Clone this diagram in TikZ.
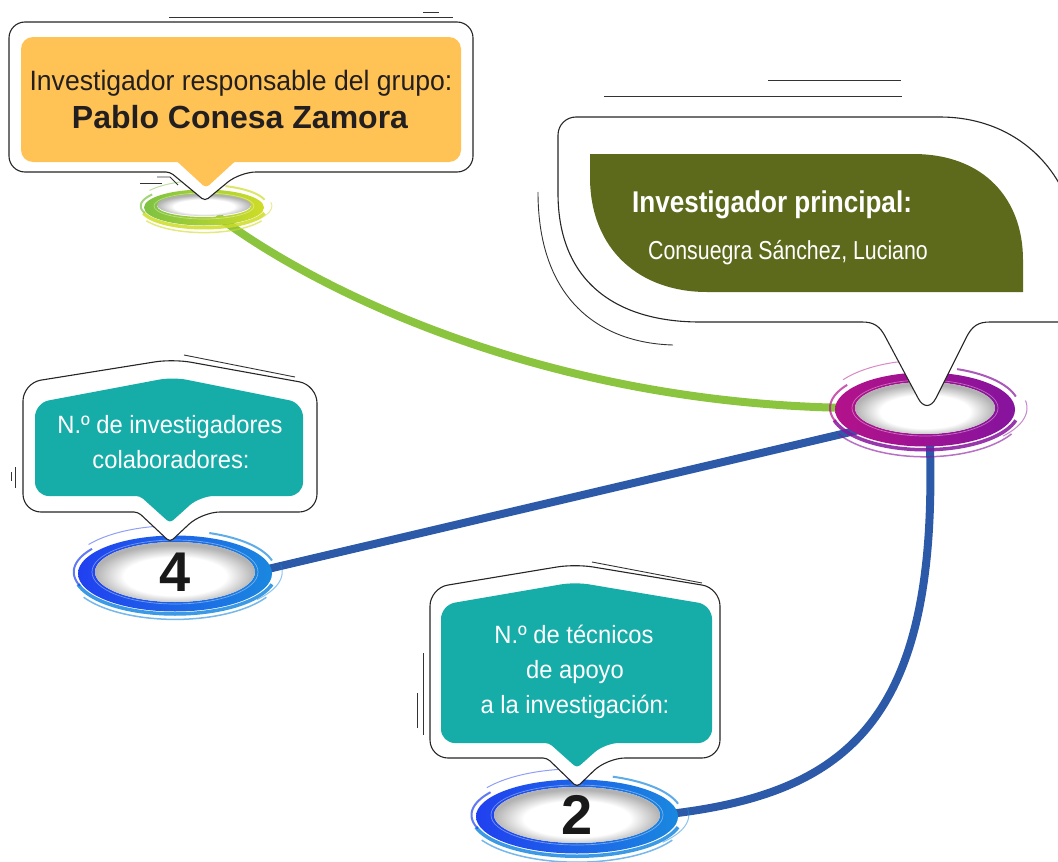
\documentclass[tikz,border=0pt]{standalone}
\usepackage{fontspec}
\setmainfont{Liberation Sans}
\newfontfamily\condA[FakeStretch=0.95]{Liberation Sans}
\newfontfamily\condB[FakeStretch=0.82]{Liberation Sans}
\newfontfamily\condC[FakeStretch=0.87]{Liberation Sans}
\usetikzlibrary{shapes.geometric}
\pgfdeclarelayer{bg}
\pgfsetlayers{bg,main}
\definecolor{orangebox}{HTML}{FFC355}
\definecolor{olivebox}{HTML}{5D6A1C}
\definecolor{tealbox}{HTML}{16ADA9}
\definecolor{lineGreen}{HTML}{8BC53F}
\definecolor{lineBlue}{HTML}{2C5AA8}
\definecolor{ringGreen}{HTML}{7DC242}
\definecolor{ringYellow}{HTML}{CFDC28}
\definecolor{ringMagenta}{HTML}{B3128A}
\definecolor{ringPurple}{HTML}{86139E}
\definecolor{ringBlueA}{HTML}{2040F0}
\definecolor{ringBlueB}{HTML}{1A88DF}
\definecolor{darktext}{HTML}{231F20}
\pgfdeclareradialshading{rimshade}{\pgfpoint{0bp}{-5bp}}{color(0bp)=(white); color(16bp)=(white); color(25bp)=(black!30); color(50bp)=(black!30)}
% #1 x, #2 y, #3 rx, #4 ry, #5 wx, #6 wy, #7 colour A, #8 colour B
\newcommand\brushring[8]{%
\begin{scope}[shift={(#1,#2)}]
\shade[left color=#7, right color=#8, even odd rule] (0,1.5) ellipse[x radius=#3+#5, y radius=#4+#6] (0,0) ellipse[x radius=#3, y radius=#4];
\draw[#8, line width=3.5pt, opacity=.85] plot[domain=15:165, samples=40, smooth] ({(#3+1.2*#5)*cos(\x)}, {2+(#4+1.25*#6)*sin(\x)});
\draw[#8, line width=1.5pt, opacity=.6] plot[domain=30:150, samples=40, smooth] ({(#3+1.5*#5)*cos(\x)}, {3+(#4+1.8*#6)*sin(\x)});
\draw[#7, line width=2pt, opacity=.7] plot[domain=160:215, samples=20, smooth] ({(#3+1.25*#5)*cos(\x)}, {(#4+1.3*#6)*sin(\x)});
\draw[#8, line width=2pt, opacity=.7] plot[domain=290:345, samples=20, smooth] ({(#3+1.2*#5)*cos(\x)}, {-1+(#4+1.3*#6)*sin(\x)});
\draw[#7, line width=1pt, opacity=.5] plot[domain=215:260, samples=20, smooth] ({(#3+1.5*#5)*cos(\x)}, {-2+(#4+1.8*#6)*sin(\x)});
\draw[#8, line width=1pt, opacity=.5] plot[domain=-10:40, samples=20, smooth] ({(#3+1.6*#5)*cos(\x)}, {(#4+1.6*#6)*sin(\x)});
\draw[white, line width=.7pt, opacity=.4] (0,0) ellipse[x radius=#3+3, y radius=#4+2];
\end{scope}}
\tikzset{
  callout/.style={draw=black!85, line width=1.1pt, fill=white, line join=round},
  deco/.style={draw=black!80, line width=0.9pt},
  core/.style={ellipse, inner sep=0pt, shade, shading=rimshade},
  greenline/.style={draw=lineGreen, line width=8pt},
  blueline/.style={draw=lineBlue, line width=8pt},
  lbl/.style={text=white, inner sep=0pt, anchor=base, align=center},
  digit/.style={font=\fontsize{56}{56}\selectfont\bfseries, text=black!90},
}
\begin{document}
\begin{tikzpicture}[x=1pt, y=-1pt]
\useasboundingbox (0,0) rectangle (1058,862);

% ---------- rings and cores ----------
\brushring{204}{206}{47}{11}{13}{7}{ringGreen}{ringYellow}
\node[core, minimum width=94pt, minimum height=22pt] (g1) at (204,205) {};

\brushring{925}{408}{70}{26}{20}{11}{ringMagenta}{ringPurple}
\node[core, minimum width=140pt, minimum height=52pt] (p1) at (925,408) {};

\brushring{175}{572}{80}{30}{17}{8}{ringBlueA}{ringBlueB}
\node[core, digit, minimum width=160pt, minimum height=60pt] (n4) at (175,572) {4};

\brushring{577}{815}{83}{28}{18}{9}{ringBlueA}{ringBlueB}
\node[core, digit, minimum width=166pt, minimum height=56pt] (n2) at (577,815) {2};

% ---------- connectors ----------
\begin{pgfonlayer}{bg}
\draw[greenline] (g1.-40) .. controls (330,300) and (560,405) .. (p1.west);
\draw[blueline] (p1.200) -- (n4.east);
\draw[blueline] (p1.-80) .. controls (940,720) and (850,795) .. (n2.east);
\end{pgfonlayer}

% ---------- top-left callout ----------
\draw[deco] (169,17) -- (453,17);
\draw[deco] (423,12) -- (439,12);
\draw[deco] (140,183) -- (162,183);
\draw[deco] (157,177) -- (170,177) -- (178,185);
\draw[callout, rounded corners=16] (100,172) -- (9,172) -- (9,22) -- (473,22) -- (473,172) -- (240,172) [rounded corners=4] -- (205,201) -- (170,172) -- cycle;
\fill[orangebox, rounded corners=12] (21,37) rectangle (461,162);
\fill[orangebox, rounded corners=4] (170,155) -- (206,188) -- (242,155) -- cycle;
\node[lbl, text=darktext, font=\condA\fontsize{28}{30}\selectfont] (t1) at (241,90) {Investigador responsable del grupo:};
\node[lbl, text=darktext, font=\bfseries\fontsize{32}{34}\selectfont] (t2) at (240,128) {Pablo Conesa Zamora};

% ---------- right callout ----------
\draw[deco] (768,80) -- (901,80);
\draw[deco] (604,96) -- (902,96);
\draw[deco] (538,192) .. controls (538,300) and (600,343) .. (673,345);
\draw[callout] (576,117) -- (940,117) .. controls (1000,117) and (1045,150) .. (1065,195) -- (1065,322) -- (990,322)
  .. controls (978,322) and (972,326) .. (966,338) -- (936,398) .. controls (931,408) and (923,408) .. (918,398)
  -- (886,338) .. controls (880,326) and (874,322) .. (862,322) -- (700,322)
  .. controls (620,322) and (558,285) .. (558,193) -- (558,135) .. controls (558,125) and (566,117) .. (576,117) -- cycle;
\fill[olivebox] (590,154) -- (913,154) .. controls (985,154) and (1023,200) .. (1023,260) -- (1023,292) -- (707,292) .. controls (640,292) and (590,250) .. (590,177) -- cycle;
\node[lbl, font=\condC\bfseries\fontsize{30}{32}\selectfont] (t3) at (772,212) {Investigador principal:};
\node[lbl, font=\condB\fontsize{26}{28}\selectfont] (t4) at (788,259) {Consuegra Sánchez, Luciano};

% ---------- left callout ----------
\draw[deco] (184,355) -- (295,377);
\draw[deco] (11,472) -- (11,481);
\draw[deco] (15,467) -- (15,488);
\draw[callout, rounded corners=18] (100,512) -- (23,512) -- (23,383) -- (173,359) -- (317,385) -- (317,512) -- (202,512) [rounded corners=4] -- (170,542) -- (138,512) -- cycle;
\fill[tealbox, rounded corners=14] (100,496) -- (35,496) -- (35,403) -- (173,377) -- (303,403) -- (303,496) -- (200,496) [rounded corners=4] -- (170,523) -- (140,496) -- cycle;
\node[lbl, font=\condA\fontsize{25}{30}\selectfont] (t5) at (170,433) {N.º de investigadores};
\node[lbl, font=\condA\fontsize{25}{30}\selectfont] (t6) at (171,468) {colaboradores:};

% ---------- bottom callout ----------
\draw[deco] (592,562) -- (702,583);
\draw[deco] (423,653) -- (423,735);
\draw[deco] (417,693) -- (417,728);
\draw[callout, rounded corners=18] (500,758) -- (430,758) -- (430,588) -- (575,564) -- (720,588) -- (720,758) -- (607,758) [rounded corners=4] -- (577,787) -- (547,758) -- cycle;
\fill[tealbox, rounded corners=14] (500,743) -- (441,743) -- (441,605) -- (575,582) -- (712,605) -- (712,743) -- (605,743) [rounded corners=4] -- (577,768) -- (549,743) -- cycle;
\node[lbl, font=\condA\fontsize{25}{30}\selectfont] (t7) at (574,643) {N.º de técnicos};
\node[lbl, font=\condA\fontsize{25}{30}\selectfont] (t8) at (575,678) {de apoyo};
\node[lbl, font=\condA\fontsize{25}{30}\selectfont] (t9) at (575,713) {a la investigación:};
\end{tikzpicture}
\end{document}
